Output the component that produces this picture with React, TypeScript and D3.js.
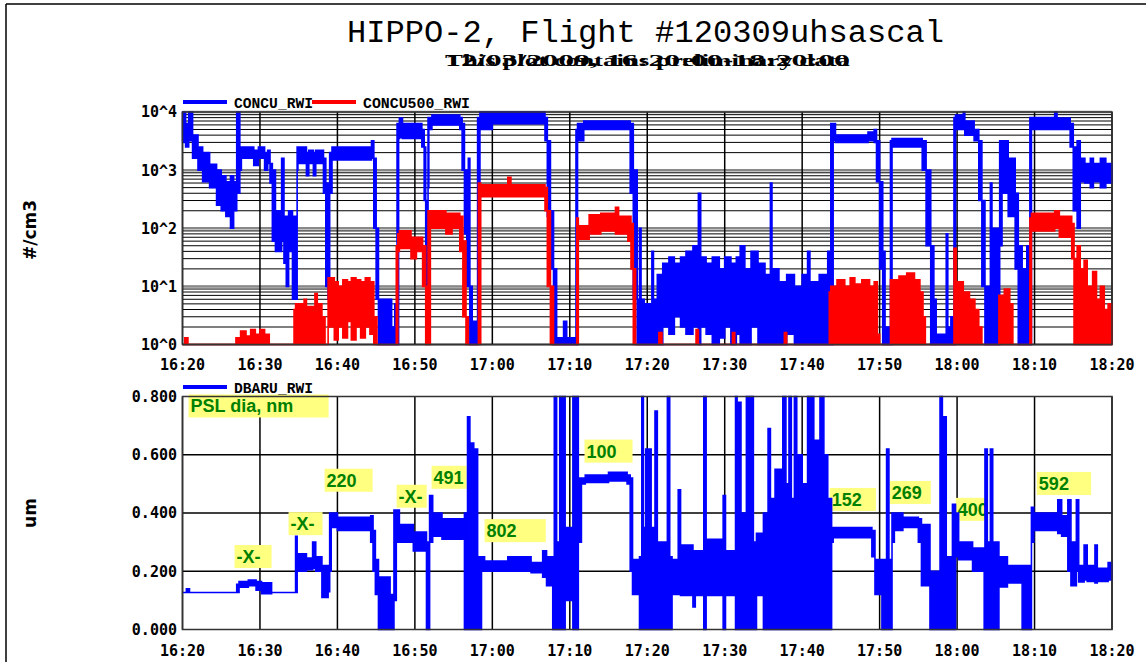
import React, { useEffect } from "react";
import * as d3 from "d3";

// each row: [minutes after 16:20, low, high] - the band holds until the next row
type Band = [number, number, number];

const flightStart = Date.UTC(2009, 11, 3, 16, 20);
const flightEnd = Date.UTC(2009, 11, 3, 18, 20);

// CONCU_RWI, #/cm3
const concuRwi: Band[] = [
  [0, 3000, 10000], [0.4, 2500, 6300], [0.8, 3200, 10000], [1.3, 1600, 4000],
  [2.0, 1000, 2500], [2.6, 630, 2000], [3.5, 500, 1260], [4.4, 250, 1000],
  [5.0, 200, 800], [5.6, 160, 630], [6.2, 100, 800], [6.6, 200, 630],
  [7.0, 400, 10000], [7.4, 1000, 2500], [7.6, 1600, 2500], [9.2, 1200, 2200],
  [9.8, 1600, 2500], [10.6, 1000, 2000], [11.0, 1300, 2200], [11.3, 600, 1300],
  [11.6, 60, 1000], [12.0, 40, 200], [12.8, 60, 1600], [13.1, 25, 160],
  [13.4, 10, 160], [13.7, 40, 200], [14.2, 6, 160], [14.6, 6, 20],
  [14.8, 1000, 2500], [14.9, 1300, 2500], [16.0, 800, 2000], [16.3, 1300, 2200],
  [16.9, 800, 2000], [17.2, 1300, 2200], [18.2, 400, 1600], [18.5, 10, 600],
  [18.8, 6, 60], [19.0, 400, 2000], [19.3, 1500, 2500], [24.4, 1600, 3200],
  [24.7, 100, 1600], [25.0, 6, 100], [25.3, 1, 6], [27.0, 1, 2],
  [27.4, 1, 5], [27.7, 1, 6300], [27.9, 3500, 6300], [28.0, 3600, 7900],
  [28.4, 3500, 6300], [30.9, 2500, 5000], [31.2, 300, 2500], [31.4, 10, 300],
  [31.7, 500, 8000], [31.8, 5000, 8000], [32.2, 6000, 8900], [35.8, 5000, 8000],
  [36.1, 1000, 6300], [36.4, 80, 1000], [36.7, 10, 100], [36.9, 10, 1600],
  [37.1, 1, 10], [37.4, 1, 2.5], [38.1, 100, 8000], [38.4, 5000, 10000],
  [40.0, 6300, 10000], [46.8, 3200, 8000], [47.1, 160, 3200], [47.5, 20, 200],
  [47.9, 1, 20], [48.3, 1, 1.3], [49.2, 1, 2.5], [49.6, 1, 1.3],
  [50.8, 1, 5000], [51.0, 3200, 6300], [51.8, 5000, 7000], [57.8, 400, 6300],
  [58.2, 6, 1000], [58.7, 1, 6], [59.0, 1, 100], [59.2, 1, 6],
  [59.6, 1, 5], [60.6, 1, 40], [60.8, 1, 6], [61.3, 1, 16],
  [62.0, 2, 25], [62.8, 1.5, 32], [63.5, 3, 25], [64.3, 2, 32],
  [65.0, 1.5, 40], [65.9, 2, 50], [66.6, 1, 400], [66.9, 2, 32],
  [67.6, 1.5, 25], [68.4, 1, 32], [69.3, 1.3, 20], [70.0, 2, 32],
  [70.8, 1, 25], [71.5, 1.5, 32], [72.0, 1, 50], [72.6, 1, 20],
  [73.4, 2, 40], [74.3, 1, 25], [75.2, 1, 16], [75.9, 1, 600],
  [76.1, 1, 20], [77.0, 1, 12], [78.0, 1.5, 16], [79.0, 1, 10],
  [80.0, 1, 16], [80.7, 1, 40], [81.0, 1, 12], [82.2, 1, 16],
  [83.3, 1, 40], [83.7, 1, 6300], [84.0, 3200, 6300], [84.3, 3000, 4000],
  [88.5, 3200, 4500], [89.3, 3000, 5000], [89.6, 630, 3200], [90.0, 20, 630],
  [90.4, 1, 40], [90.7, 1, 2], [91.4, 1, 3200], [91.6, 2500, 3500],
  [95.5, 1000, 3200], [96.0, 50, 1000], [96.6, 1, 50], [97.0, 1, 6],
  [97.3, 1, 1.5], [98.6, 1, 80], [98.8, 1, 2], [99.2, 1, 3],
  [99.6, 1, 8000], [99.8, 5000, 8900], [100.8, 5000, 10000], [101.0, 4000, 7000],
  [102.2, 3200, 5000], [102.8, 300, 3200], [103.2, 10, 300], [103.6, 1, 10],
  [104.3, 1, 600], [104.5, 1, 100], [105.5, 50, 3200], [105.8, 400, 3200],
  [106.6, 160, 1600], [107.5, 20, 400], [107.9, 1, 50], [108.4, 1, 20],
  [109.0, 1, 50], [109.4, 1, 8000], [109.6, 5000, 8000], [112.6, 5000, 10000],
  [112.9, 5000, 7900], [114.6, 2500, 6300], [115.0, 200, 2500], [115.5, 100, 3200],
  [115.9, 630, 1600], [116.5, 600, 1300], [117.2, 500, 1600], [117.6, 630, 1300],
  [118.5, 500, 1600], [119.2, 600, 1300],
];

// CONCU500_RWI, #/cm3
const concu500Rwi: Band[] = [
  [0, 1, 1], [0.3, 1, 1.3], [0.7, 1, 1], [6.9, 1, 1.3],
  [7.5, 1, 1.7], [8.2, 1, 1.4], [8.8, 1, 1.8], [9.4, 1, 1.5],
  [10.0, 1, 1.8], [10.6, 1, 1.5], [11.2, 1, 1], [14.4, 1, 4],
  [14.6, 1, 5], [15.7, 1, 6], [16.0, 1, 4.5], [17.1, 1, 7.5],
  [17.4, 1, 5], [18.0, 1, 3], [18.4, 1, 1], [18.8, 2, 14],
  [19.6, 1.2, 12], [20.1, 2, 10], [20.7, 1.3, 13], [21.3, 2.5, 12],
  [21.8, 1.2, 14], [22.4, 2, 13], [23.0, 1.3, 12], [23.6, 2, 14],
  [24.2, 1.5, 12], [24.7, 1, 3], [25.1, 1, 1], [27.6, 1, 50],
  [27.8, 40, 80], [28.0, 45, 90], [29.5, 30, 70], [30.2, 40, 70],
  [31.0, 10, 50], [31.4, 1, 10], [31.7, 1, 200], [32.0, 100, 200],
  [34.0, 80, 180], [34.8, 100, 180], [35.8, 40, 160], [36.2, 3, 60],
  [36.6, 1, 3], [36.9, 1, 1], [38.2, 1, 600], [38.5, 350, 560],
  [42.0, 350, 750], [42.4, 350, 560], [46.8, 200, 500], [47.1, 10, 200],
  [47.5, 1, 10], [47.9, 1, 1], [50.9, 1, 150], [51.1, 65, 110],
  [52.5, 80, 170], [54.0, 90, 180], [55.9, 80, 230], [56.3, 80, 160],
  [57.5, 60, 160], [57.9, 20, 120], [58.2, 1, 20], [58.5, 1, 1],
  [61.5, 1, 1.6], [61.9, 1, 1], [66.3, 1, 1.8], [66.6, 1, 1],
  [71.0, 1, 1.6], [71.3, 1, 1], [77.7, 1, 1.6], [78.0, 1, 1],
  [83.5, 1, 8], [83.7, 1, 10], [84.5, 1, 13], [85.5, 1, 10],
  [86.2, 1, 14], [86.8, 1, 11], [87.7, 1, 13], [88.7, 1, 10],
  [89.3, 1, 12], [89.7, 1, 1.5], [90.0, 1, 1], [91.4, 1, 13],
  [92.5, 1, 15], [93.5, 1, 17], [94.5, 1, 13], [95.2, 1, 8],
  [95.6, 1, 3], [95.9, 1, 1], [99.6, 1, 45], [99.9, 1, 12],
  [100.8, 1, 8], [101.6, 1, 6], [102.3, 1, 4], [102.8, 1, 2],
  [103.2, 1, 1], [105.4, 1, 7], [106.1, 1, 9], [106.8, 1, 5],
  [107.2, 1, 1], [109.4, 1, 150], [109.6, 90, 180], [112.6, 100, 200],
  [113.2, 70, 160], [114.8, 30, 120], [115.1, 1, 30], [115.5, 1, 50],
  [115.9, 1, 20], [116.4, 1, 28], [116.8, 1, 10], [117.5, 1, 18],
  [118.0, 1, 6], [118.5, 1, 10], [119.0, 1, 4], [119.5, 1, 5],
];

// DBARU_RWI, um
const dbaruRwi: Band[] = [
  [0, 0.127, 0.127], [0.5, 0.127, 0.14], [0.9, 0.127, 0.127], [7.0, 0.127, 0.155],
  [7.3, 0.145, 0.165], [8.5, 0.15, 0.17], [9.5, 0.135, 0.165], [10.2, 0.123, 0.16],
  [11.5, 0.127, 0.127], [14.6, 0.127, 0.32], [14.8, 0.2, 0.26], [16.0, 0.205, 0.245],
  [16.8, 0.21, 0.3], [17.2, 0.2, 0.25], [18.0, 0.11, 0.22], [18.8, 0.13, 0.2],
  [19.0, 0.2, 0.4], [19.2, 0.35, 0.4], [20.0, 0.34, 0.385], [24.3, 0.3, 0.39],
  [24.6, 0.2, 0.34], [24.9, 0.12, 0.24], [25.3, 0, 0.18], [26.8, 0, 0.12],
  [27.3, 0.1, 0.41], [27.6, 0.3, 0.41], [28.0, 0.3, 0.36], [29.8, 0.27, 0.335],
  [31.5, 0, 0.3], [31.9, 0.3, 0.46], [32.3, 0.32, 0.4], [33.5, 0.31, 0.38],
  [36.4, 0, 0.4], [36.8, 0, 0.73], [37.1, 0, 0.3], [37.3, 0, 0.64],
  [37.6, 0, 0.3], [37.8, 0, 0.62], [38.1, 0, 0.25], [38.6, 0.2, 0.25],
  [39.0, 0.2, 0.235], [42.0, 0.2, 0.25], [45.0, 0.195, 0.23], [46.5, 0.18, 0.27],
  [47.0, 0.15, 0.25], [47.8, 0, 0.2], [48.0, 0, 0.82], [48.3, 0, 0.3],
  [48.7, 0, 0.82], [49.0, 0, 0.4], [49.2, 0, 0.82], [49.4, 0.1, 0.35],
  [50.4, 0, 0.82], [50.7, 0.05, 0.3], [50.9, 0, 0.82], [51.1, 0.3, 0.52],
  [51.5, 0.5, 0.52], [52.0, 0.505, 0.53], [55.0, 0.51, 0.54], [57.4, 0.5, 0.53],
  [57.8, 0.2, 0.52], [58.1, 0.12, 0.24], [59.0, 0, 0.25], [59.3, 0, 0.82],
  [59.5, 0, 0.35], [59.8, 0, 0.62], [60.0, 0, 0.3], [60.2, 0, 0.62],
  [60.5, 0, 0.35], [61.0, 0, 0.75], [61.3, 0, 0.3], [62.6, 0, 0.82],
  [62.9, 0, 0.25], [63.2, 0.12, 0.24], [64.0, 0.12, 0.48], [64.3, 0.117, 0.29],
  [65.9, 0.077, 0.27], [66.2, 0.117, 0.27], [67.3, 0, 0.82], [67.6, 0.117, 0.31],
  [69.8, 0, 0.46], [70.1, 0.117, 0.27], [71.4, 0, 0.82], [71.6, 0, 0.4],
  [71.8, 0, 0.78], [72.1, 0, 0.4], [72.8, 0, 0.82], [73.7, 0, 0.3],
  [74.1, 0.117, 0.33], [75.0, 0, 0.4], [75.6, 0, 0.69], [75.9, 0, 0.45],
  [76.5, 0, 0.55], [77.5, 0, 0.82], [77.9, 0, 0.5], [78.3, 0, 0.82],
  [78.6, 0, 0.45], [79.0, 0, 0.82], [79.3, 0, 0.6], [80.0, 0, 0.5],
  [80.7, 0, 0.82], [81.5, 0, 0.65], [82.3, 0, 0.82], [82.8, 0, 0.6],
  [83.3, 0, 0.45], [83.8, 0.3, 0.35], [84.0, 0.315, 0.35], [89.0, 0.25, 0.34],
  [89.4, 0.12, 0.24], [90.3, 0, 0.24], [90.9, 0, 0.62], [91.2, 0, 0.24],
  [91.6, 0.3, 0.4], [91.9, 0.34, 0.4], [93.0, 0.35, 0.385], [95.0, 0.3, 0.38],
  [95.4, 0.15, 0.36], [96.5, 0, 0.2], [97.8, 0, 0.82], [98.1, 0, 0.25],
  [98.3, 0, 0.73], [98.6, 0, 0.25], [99.4, 0, 0.43], [99.8, 0.25, 0.4],
  [100.2, 0.24, 0.3], [102.0, 0.2, 0.28], [103.5, 0, 0.24], [103.6, 0, 0.62],
  [103.9, 0, 0.3], [104.3, 0, 0.62], [104.6, 0, 0.3], [105.4, 0.146, 0.25],
  [106.5, 0.16, 0.22], [108.4, 0, 0.22], [109.6, 0.3, 0.42], [109.9, 0.34, 0.4],
  [113.0, 0.33, 0.445], [113.5, 0.32, 0.39], [114.3, 0.2, 0.445], [114.7, 0.15, 0.3],
  [115.4, 0.2, 0.445], [115.7, 0.163, 0.22], [116.4, 0.17, 0.29], [116.8, 0.165, 0.22],
  [117.8, 0.16, 0.29], [118.1, 0.165, 0.21], [119.5, 0.17, 0.23],
];

const decadeLabels = ["10^0", "10^1", "10^2", "10^3", "10^4"];
const diameterTicks = [0, 0.2, 0.4, 0.6, 0.8];

// PSL size notes: label, from (min), to (min), top of box (um)
const pslNotes: [string, number, number, number][] = [
  ["PSL dia, nm", 0.78, 18.86, 0.807],
  ["-X-", 6.72, 11.5, 0.29],
  ["-X-", 13.69, 18.08, 0.403],
  ["220", 18.34, 24.54, 0.552],
  ["-X-", 27.64, 31.52, 0.497],
  ["491", 32.16, 36.68, 0.562],
  ["802", 39.0, 46.9, 0.379],
  ["100", 51.9, 58.1, 0.652],
  ["152", 83.57, 89.52, 0.486],
  ["269", 91.32, 96.6, 0.51],
  ["400", 99.84, 103.85, 0.452],
  ["592", 110.3, 117.3, 0.541],
];

const W = 1146;
const H = 662;
const plotL = 182.5;
const plotR = 1112;
const topRange: [number, number] = [344.5, 112];
const botRange: [number, number] = [629.5, 396.5];
const mono = "'DejaVu Sans Mono', monospace";

export default function App() {
  useEffect(() => {
    document.body.style.margin = "0";
  }, []);

  const x = d3.scaleUtc()
    .domain([new Date(flightStart), new Date(flightEnd)])
    .range([plotL, plotR]);
  const xm = (m: number) => x(new Date(flightStart + m * 60000));
  const timeTicks = x.ticks(d3.utcMinute.every(10)!);
  const fmt = d3.utcFormat("%H:%M");

  const yTop = d3.scaleLog().domain([1, 10000]).range(topRange).clamp(true);
  const yBot = d3.scaleLinear().domain([0, 0.8]).range(botRange).clamp(true);

  const bandPath = (rows: Band[], y: (v: number) => number) => {
    const last = rows[rows.length - 1];
    const ext: Band[] = [...rows, [120, last[1], last[2]]];
    return d3.area<Band>()
      .x(d => xm(d[0]))
      .y0(d => y(d[1]))
      .y1(d => y(d[2]))
      .curve(d3.curveStepAfter)(ext) || "";
  };

  const minorTicks = yTop.ticks().filter(v => !Number.isInteger(Math.log10(v)) || true);
  const decades = yTop.ticks().filter(v => Math.abs(Math.log10(v) - Math.round(Math.log10(v))) < 1e-9);

  return (
    <svg width={W} height={H} style={{ position: "absolute", left: 0, top: 0, background: "#fff" }}
      fontFamily={mono}>
      <defs>
        <clipPath id="clipTop">
          <rect x={plotL - 1} y={topRange[1] - 2} width={plotR - plotL + 2} height={topRange[0] - topRange[1] + 4} />
        </clipPath>
        <clipPath id="clipBot">
          <rect x={plotL - 1} y={botRange[1] - 2} width={plotR - plotL + 2} height={botRange[0] - botRange[1] + 4} />
        </clipPath>
      </defs>
      <rect width={W} height={H} fill="#fff" />
      <line x1={6} y1={4} x2={W} y2={4} stroke="#000" strokeWidth={1.5} />
      <line x1={6} y1={4} x2={6} y2={H} stroke="#000" strokeWidth={1.5} />

      <text x={347} y={42} fontFamily="'Liberation Mono', monospace" fontSize={31}
        textLength={597} lengthAdjust="spacingAndGlyphs">HIPPO-2, Flight #120309uhsascal</text>
      <text x={445} y={66} fontFamily="'Liberation Serif', serif" fontWeight="bold" fontSize={17}
        textLength={405} lengthAdjust="spacingAndGlyphs">12/03/2009, 16:20:00-18:20:00</text>
      <text x={445} y={66} fontFamily="'Liberation Serif', serif" fontWeight="bold" fontSize={17}
        textLength={405} lengthAdjust="spacingAndGlyphs">This plot contains preliminary data</text>

      {/* top panel */}
      <g>
        {minorTicks.map(v => (
          <line key={"m" + v} x1={plotL} x2={plotR} y1={yTop(v)} y2={yTop(v)} stroke="#000" strokeWidth={1} />
        ))}
        {decades.map(v => (
          <line key={"d" + v} x1={plotL} x2={plotR} y1={yTop(v)} y2={yTop(v)} stroke="#888" strokeWidth={2.5} />
        ))}
        {timeTicks.map(t => (
          <line key={"v" + +t} x1={x(t)} x2={x(t)} y1={topRange[1]} y2={topRange[0]} stroke="#000" strokeWidth={1.5} />
        ))}
        <g clipPath="url(#clipTop)">
          <path d={bandPath(concuRwi, yTop)} fill="#0000ff" stroke="#0000ff" strokeWidth={1.6} />
          <path d={bandPath(concu500Rwi, yTop)} fill="#ff0000" stroke="#ff0000" strokeWidth={1.6} />
        </g>
        <rect x={plotL} y={topRange[1]} width={plotR - plotL} height={topRange[0] - topRange[1]}
          fill="none" stroke="#333" strokeWidth={1.5} />
        {decades.map((v, i) => (
          <text key={"dl" + v} x={177} y={yTop(v)} dy="0.36em" textAnchor="end" fontSize={15} fontWeight="bold">
            {decadeLabels[i]}
          </text>
        ))}
        {timeTicks.map(t => (
          <text key={"tl" + +t} x={x(t)} y={370} textAnchor="middle" fontSize={15} fontWeight="bold">{fmt(t)}</text>
        ))}
        <line x1={183} x2={227} y1={102} y2={102} stroke="#0000ff" strokeWidth={4} />
        <text x={234} y={108} fontFamily="'Liberation Mono', monospace" fontWeight="bold" fontSize={14}
          textLength={79} lengthAdjust="spacingAndGlyphs">CONCU_RWI</text>
        <line x1={312} x2={356} y1={102} y2={102} stroke="#ff0000" strokeWidth={4} />
        <text x={363} y={108} fontFamily="'Liberation Mono', monospace" fontWeight="bold" fontSize={14}
          textLength={107} lengthAdjust="spacingAndGlyphs">CONCU500_RWI</text>
        <text transform="translate(36,230) rotate(-90)" textAnchor="middle" fontFamily="'DejaVu Sans', sans-serif"
          fontWeight="bold" fontSize={17}>#/cm3</text>
      </g>

      {/* bottom panel */}
      <g>
        {diameterTicks.slice(1, -1).map(v => (
          <line key={"h" + v} x1={plotL} x2={plotR} y1={yBot(v)} y2={yBot(v)} stroke="#000" strokeWidth={1.5} />
        ))}
        {timeTicks.map(t => (
          <line key={"bv" + +t} x1={x(t)} x2={x(t)} y1={botRange[1]} y2={botRange[0]} stroke="#000" strokeWidth={1.5} />
        ))}
        {pslNotes.map(([label, t0, t1, top], i) => (
          <g key={"n" + i}>
            <rect x={xm(t0)} y={yBot.copy().clamp(false)(top)} width={xm(t1) - xm(t0)} height={23} fill="#ffff80" />
            <text x={xm(t0) + 2} y={yBot.copy().clamp(false)(top) + 18} fill="#008000"
              fontFamily="'Liberation Sans', Arial, sans-serif" fontWeight="bold" fontSize={18}>{label}</text>
          </g>
        ))}
        <g clipPath="url(#clipBot)">
          <path d={bandPath(dbaruRwi, yBot)} fill="#0000ff" stroke="#0000ff" strokeWidth={1.6} />
        </g>
        <rect x={plotL} y={botRange[1]} width={plotR - plotL} height={botRange[0] - botRange[1]}
          fill="none" stroke="#333" strokeWidth={1.5} />
        {diameterTicks.map(v => (
          <text key={"bl" + v} x={177} y={yBot(v)} dy="0.36em" textAnchor="end" fontSize={15} fontWeight="bold">
            {d3.format(".3f")(v)}
          </text>
        ))}
        {timeTicks.map(t => (
          <text key={"btl" + +t} x={x(t)} y={656} textAnchor="middle" fontSize={15} fontWeight="bold">{fmt(t)}</text>
        ))}
        <line x1={183} x2={227} y1={387} y2={387} stroke="#0000ff" strokeWidth={4} />
        <text x={234} y={393} fontFamily="'Liberation Mono', monospace" fontWeight="bold" fontSize={14}
          textLength={79} lengthAdjust="spacingAndGlyphs">DBARU_RWI</text>
        <text transform="translate(36,513) rotate(-90)" textAnchor="middle" fontFamily="'DejaVu Sans', sans-serif"
          fontWeight="bold" fontSize={17}>um</text>
      </g>
    </svg>
  );
}
